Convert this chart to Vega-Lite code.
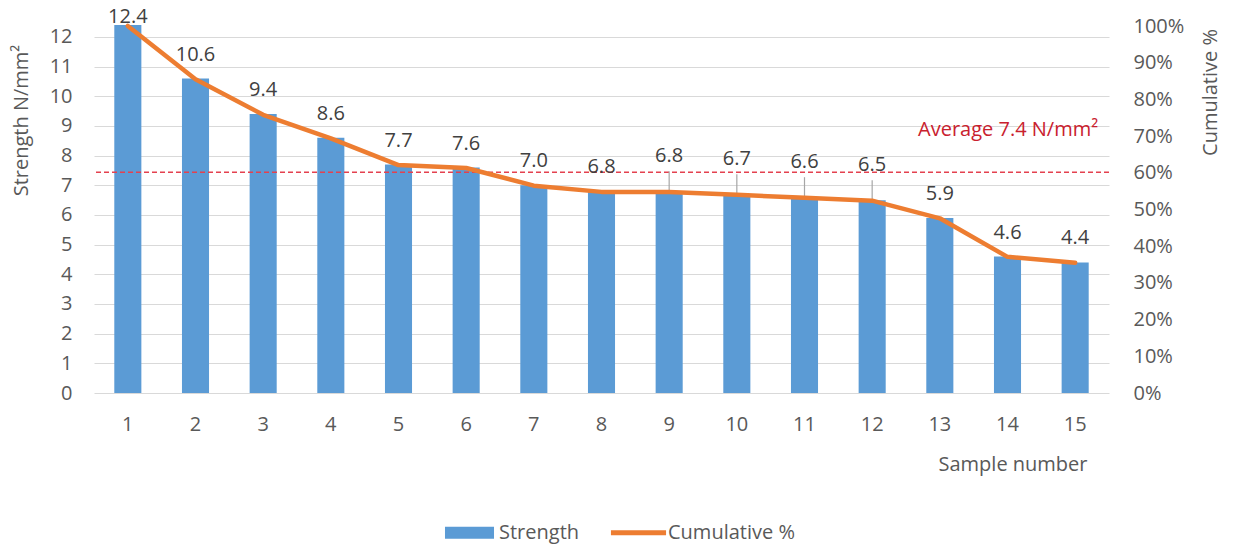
{
  "$schema": "https://vega.github.io/schema/vega-lite/v6.json",
  "width": 1015,
  "height": 367,
  "autosize": {"type": "none"},
  "padding": {"left": 94, "top": 26, "right": 124, "bottom": 152},
  "background": "white",
  "config": {
    "view": {"stroke": null},
    "font": "Open Sans",
    "text": {"font": "Open Sans"}
  },
  "data": {
    "values": [
      {"sample": 1, "strength": 12.4, "cumulative": 1.0},
      {"sample": 2, "strength": 10.6, "cumulative": 0.855},
      {"sample": 3, "strength": 9.4, "cumulative": 0.758},
      {"sample": 4, "strength": 8.6, "cumulative": 0.694},
      {"sample": 5, "strength": 7.7, "cumulative": 0.621},
      {"sample": 6, "strength": 7.6, "cumulative": 0.613},
      {"sample": 7, "strength": 7.0, "cumulative": 0.565},
      {"sample": 8, "strength": 6.8, "cumulative": 0.548},
      {"sample": 9, "strength": 6.8, "cumulative": 0.548},
      {"sample": 10, "strength": 6.7, "cumulative": 0.54},
      {"sample": 11, "strength": 6.6, "cumulative": 0.532},
      {"sample": 12, "strength": 6.5, "cumulative": 0.524},
      {"sample": 13, "strength": 5.9, "cumulative": 0.476},
      {"sample": 14, "strength": 4.6, "cumulative": 0.371},
      {"sample": 15, "strength": 4.4, "cumulative": 0.355}
    ]
  },
  "layer": [
    {
      "layer": [
        {
          "mark": {"type": "bar"},
          "encoding": {
            "x": {
              "field": "sample",
              "type": "ordinal",
              "scale": {"paddingInner": 0.6, "paddingOuter": 0.3},
              "axis": {
                "title": "Sample number",
                "labelAngle": 0,
                "labelFontSize": 20,
                "labelColor": "#595959",
                "labelPadding": 21,
                "ticks": false,
                "domain": false,
                "grid": false,
                "titleFontSize": 20,
                "titleFontWeight": "normal",
                "titleColor": "#595959",
                "titleX": 993,
                "titleY": 71,
                "titleAlign": "right",
                "titleBaseline": "middle"
              }
            },
            "y": {
              "field": "strength",
              "type": "quantitative",
              "scale": {"domain": [0, 12.37], "nice": false},
              "axis": {
                "title": "Strength N/mm²",
                "values": [0, 1, 2, 3, 4, 5, 6, 7, 8, 9, 10, 11, 12],
                "tickCount": 13,
                "labelOverlap": false,
                "grid": true,
                "gridColor": "#d9d9d9",
                "gridWidth": 1,
                "ticks": false,
                "domain": false,
                "labelFontSize": 20,
                "labelColor": "#595959",
                "labelPadding": 22,
                "titleFontSize": 20,
                "titleFontWeight": "normal",
                "titleColor": "#595959",
                "titleX": -73,
                "titleY": 94,
                "titleAngle": -90,
                "titleAlign": "center",
                "titleBaseline": "middle"
              }
            },
            "color": {
              "datum": "Strength",
              "type": "nominal",
              "scale": {"domain": ["Strength", "Cumulative %"], "range": ["#5B9BD5", "#ED7D31"]},
              "legend": {
                "title": null,
                "orient": "none",
                "direction": "horizontal",
                "legendX": 349,
                "legendY": 480,
                "symbolSize": 2809,
                "labelFontSize": 20,
                "labelColor": "#595959",
                "labelOffset": 3,
                "columnPadding": 30,
                "symbolOpacity": 1,
                "encode": {
                  "symbols": {
                    "update": {
                      "shape": {"signal": "datum.value === 'Strength' ? 'M-0.925,-0.226H0.925V0.226H-0.925Z' : 'M-1.04,-0.094H1.04V0.094H-1.04Z'"},
                      "fill": {"scale": "color", "field": "value"},
                      "stroke": {"value": "transparent"},
                      "strokeWidth": {"value": 0},
                      "opacity": {"value": 1}
                    }
                  }
                }
              }
            }
          }
        },
        {
          "mark": {"type": "rule", "color": "#E4414F", "strokeWidth": 1.5, "strokeDash": [5, 3]},
          "encoding": {
            "y": {"aggregate": "mean", "field": "strength", "type": "quantitative", "axis": {"values": [0, 1, 2, 3, 4, 5, 6, 7, 8, 9, 10, 11, 12], "tickCount": 13}}
          }
        },
        {
          "transform": [{"filter": "datum.sample >= 9 && datum.sample <= 12"}],
          "mark": {"type": "rule", "color": "#a6a6a6", "strokeWidth": 1.2, "y2Offset": -20},
          "encoding": {
            "x": {"field": "sample", "type": "ordinal"},
            "y": {"field": "strength", "type": "quantitative", "axis": {"values": [0, 1, 2, 3, 4, 5, 6, 7, 8, 9, 10, 11, 12], "tickCount": 13}},
            "y2": {"field": "strength"}
          }
        },
        {
          "transform": [{"filter": "datum.sample > 1 && (datum.sample < 9 || datum.sample > 12)"}],
          "mark": {"type": "text", "fontSize": 20, "color": "#404040", "baseline": "middle", "dy": -24},
          "encoding": {
            "x": {"field": "sample", "type": "ordinal"},
            "y": {"field": "strength", "type": "quantitative", "axis": {"values": [0, 1, 2, 3, 4, 5, 6, 7, 8, 9, 10, 11, 12], "tickCount": 13}},
            "text": {"field": "strength", "type": "quantitative", "format": ".1f"}
          }
        },
        {
          "transform": [{"filter": "datum.sample === 1"}],
          "mark": {"type": "text", "fontSize": 20, "color": "#404040", "baseline": "middle", "dy": -8},
          "encoding": {
            "x": {"field": "sample", "type": "ordinal"},
            "y": {"field": "strength", "type": "quantitative", "axis": {"values": [0, 1, 2, 3, 4, 5, 6, 7, 8, 9, 10, 11, 12], "tickCount": 13}},
            "text": {"field": "strength", "type": "quantitative", "format": ".1f"}
          }
        },
        {
          "transform": [{"filter": "datum.sample >= 9 && datum.sample <= 12"}],
          "mark": {"type": "text", "fontSize": 20, "color": "#404040", "baseline": "middle", "dy": -35},
          "encoding": {
            "x": {"field": "sample", "type": "ordinal"},
            "y": {"field": "strength", "type": "quantitative", "axis": {"values": [0, 1, 2, 3, 4, 5, 6, 7, 8, 9, 10, 11, 12], "tickCount": 13}},
            "text": {"field": "strength", "type": "quantitative", "format": ".1f"}
          }
        },
        {
          "transform": [
            {"joinaggregate": [{"op": "mean", "field": "strength", "as": "avg"}]},
            {"filter": "datum.sample === 15"},
            {"calculate": "'Average ' + format(datum.avg, '.1f') + ' N/mm²'", "as": "avgLabel"}
          ],
          "mark": {"type": "text", "fontSize": 20, "color": "#C9212E", "align": "right", "baseline": "middle", "dx": 23, "dy": -42},
          "encoding": {
            "x": {"field": "sample", "type": "ordinal"},
            "y": {"field": "avg", "type": "quantitative", "axis": {"values": [0, 1, 2, 3, 4, 5, 6, 7, 8, 9, 10, 11, 12], "tickCount": 13}},
            "text": {"field": "avgLabel"}
          }
        }
      ]
    },
    {
      "mark": {"type": "line", "strokeWidth": 4.5, "strokeJoin": "round", "strokeCap": "round"},
      "encoding": {
        "x": {"field": "sample", "type": "ordinal"},
        "y": {
          "field": "cumulative",
          "type": "quantitative",
          "scale": {"domain": [0, 1], "nice": false},
          "axis": {
            "orient": "right",
            "title": "Cumulative %",
            "format": ".0%",
            "values": [0, 0.1, 0.2, 0.3, 0.4, 0.5, 0.6, 0.7, 0.8, 0.9, 1],
            "grid": false,
            "ticks": false,
            "domain": false,
            "labelFontSize": 20,
            "labelColor": "#595959",
            "labelPadding": 24,
            "titleFontSize": 20,
            "titleFontWeight": "normal",
            "titleColor": "#595959",
            "titleX": 101,
            "titleY": 66,
            "titleAngle": -90,
            "titleAlign": "center",
            "titleBaseline": "middle"
          }
        },
        "color": {"datum": "Cumulative %", "type": "nominal"}
      }
    }
  ],
  "resolve": {"scale": {"y": "independent"}}
}
